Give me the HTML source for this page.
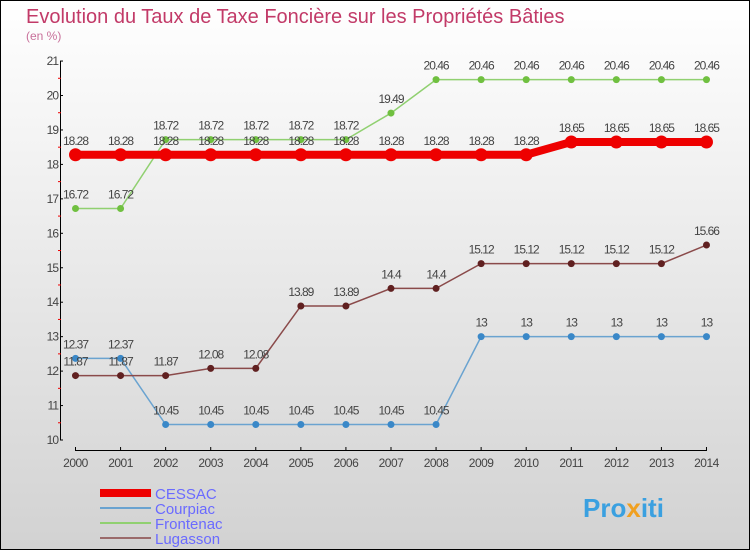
<!DOCTYPE html>
<html><head><meta charset="utf-8"><style>
body{margin:0;width:750px;height:550px;overflow:hidden}
svg{display:block;font-family:"Liberation Sans",sans-serif}
</style></head><body>
<svg id="c" width="750" height="550">
<defs><linearGradient id="bg" x1="0" y1="0" x2="0" y2="1"><stop offset="0" stop-color="#ffffff"/><stop offset="1" stop-color="#d2d2d2"/></linearGradient></defs>
<rect x="0.5" y="0.5" width="749" height="549" fill="url(#bg)" stroke="#000"/>
<text x="26" y="23" font-size="20" fill="#c23a68">Evolution du Taux de Taxe Foncière sur les Propriétés Bâties</text>
<text x="26" y="40" font-size="12" fill="#c8709a">(en %)</text>
<g id="axes"></g><g id="series"></g>
<g>
<rect x="100" y="489" width="51" height="8" fill="#ee0000"/>
<text x="155" y="499" font-size="15" fill="#6a6aff">CESSAC</text>
<line x1="100" y1="508" x2="151" y2="508" stroke="#6aa3d0" stroke-width="2"/>
<text x="155" y="514" font-size="15" fill="#6a6aff">Courpiac</text>
<line x1="100" y1="523" x2="151" y2="523" stroke="#90d070" stroke-width="2"/>
<text x="155" y="529" font-size="15" fill="#6a6aff">Frontenac</text>
<line x1="100" y1="538" x2="151" y2="538" stroke="#9a6a6a" stroke-width="2"/>
<text x="155" y="544" font-size="15" fill="#6a6aff">Lugasson</text>
</g>
<text x="583" y="517" font-size="26" font-weight="bold" fill="#3aa0e0">Pro<tspan fill="#f0a020">x</tspan>iti</text>
</svg>
<script>
const years=[2000,2001,2002,2003,2004,2005,2006,2007,2008,2009,2010,2011,2012,2013,2014];
const cessac=[18.28,18.28,18.28,18.28,18.28,18.28,18.28,18.28,18.28,18.28,18.28,18.65,18.65,18.65,18.65];
const courpiac=[12.37,12.37,10.45,10.45,10.45,10.45,10.45,10.45,10.45,13,13,13,13,13,13];
const frontenac=[16.72,16.72,18.72,18.72,18.72,18.72,18.72,19.49,20.46,20.46,20.46,20.46,20.46,20.46,20.46];
const lugasson=[11.87,11.87,11.87,12.08,12.08,13.89,13.89,14.4,14.4,15.12,15.12,15.12,15.12,15.12,15.66];
const yTicks=[10,11,12,13,14,15,16,17,18,19,20,21];
const NS="http://www.w3.org/2000/svg";
const X=i=>75.5+i*45.07, Y=v=>440-(v-10)*34.45;
function mk(t,a,p){const e=document.createElementNS(NS,t);for(const k in a)e.setAttribute(k,a[k]);p.appendChild(e);return e;}
const ax=document.getElementById('axes');
let e=mk('line',{x1:60.5,y1:Y(21),x2:60.5,y2:Y(10),stroke:'#000'},ax);


e=mk('line',{x1:X(0),y1:450.5,x2:X(14),y2:450.5,stroke:'#000'},ax);


yTicks.forEach(v=>{
 mk('line',{x1:60,y1:Y(v),x2:63,y2:Y(v),stroke:'#000'},ax);
 if(v<21)mk('line',{x1:58,y1:Y(v+0.5),x2:61,y2:Y(v+0.5),stroke:'#e00'},ax);
 const t=mk('text',{x:58,y:Y(v)+4,'font-size':12,fill:'#444','text-anchor':'end','letter-spacing':'-1'},ax);t.textContent=v;
 
 
});
years.forEach((y,i)=>{
 mk('line',{x1:X(i),y1:447,x2:X(i),y2:451,stroke:'#000'},ax);
 const t=mk('text',{x:X(i),y:467,'font-size':12,fill:'#444','text-anchor':'middle','letter-spacing':'-0.5'},ax);t.textContent=y;
 
 
});
const sg=document.getElementById('series');
function series(name,data,col,dot,w,r){
 const g=mk('g',{},sg);
 
 
 const pl=mk('polyline',{points:data.map((v,i)=>X(i)+','+Y(v)).join(' '),fill:'none',stroke:col,'stroke-width':w},g);
 
 
 data.forEach((v,i)=>{
  const c=mk('circle',{cx:X(i),cy:Y(v),r:r,fill:dot},g);
  
  
  const t=mk('text',{x:X(i),y:Y(v)-10,'font-size':12,fill:'#444','text-anchor':'middle','letter-spacing':'-1'},g);t.textContent=v;
  
  
 });
}
series('courpiac',courpiac,'#6aa3d0','#3a88c8',1.5,3.5);
series('frontenac',frontenac,'#90d070','#70c040',1.5,3.5);
series('lugasson',lugasson,'#8a4a4a','#602020',1.5,3.5);
series('cessac',cessac,'#ee0000','#ee0000',8,6.5);
</script>
</body></html>
